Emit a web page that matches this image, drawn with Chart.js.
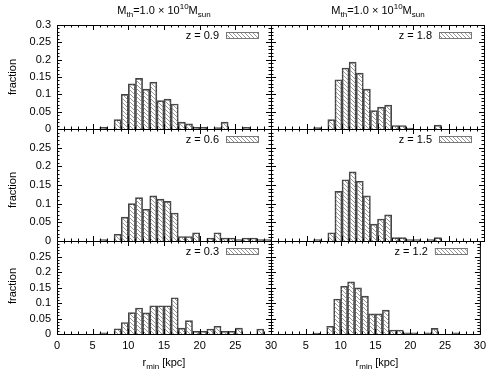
<!DOCTYPE html>
<html>
<head>
<meta charset="utf-8">
<script src="https://cdn.jsdelivr.net/npm/chart.js@4.4.0/dist/chart.umd.min.js"></script>
<style>
  body { margin: 0; background: #fff; width: 491px; height: 369px; overflow: hidden; position: relative;
         font-family: "Liberation Sans", Arial, sans-serif; color: #000; }
  canvas { position: absolute; left: 0; top: 0; }
  .lbl { position: absolute; font-size: 11px; line-height: 12px; white-space: nowrap; transform: translateX(-50%); }
  .ylab { position: absolute; font-size: 11px; line-height: 12px; white-space: nowrap; transform: translate(-50%, -50%) rotate(-90deg); }
  sub, sup { font-size: 8px; line-height: 0; }
</style>
</head>
<body>
<canvas id="c0" width="491" height="369"></canvas>
<canvas id="c1" width="491" height="369"></canvas>
<canvas id="c2" width="491" height="369"></canvas>
<canvas id="c3" width="491" height="369"></canvas>
<canvas id="c4" width="491" height="369"></canvas>
<canvas id="c5" width="491" height="369"></canvas>

<div class="lbl" style="left:164px; top:4px">M<sub>th</sub>=1.0 × 10<sup>10</sup>M<sub>sun</sub></div>
<div class="lbl" style="left:378px; top:4px">M<sub>th</sub>=1.0 × 10<sup>10</sup>M<sub>sun</sub></div>
<div class="lbl" style="left:164px; top:356px">r<sub>min</sub> [kpc]</div>
<div class="lbl" style="left:377px; top:356px">r<sub>min</sub> [kpc]</div>
<div class="ylab" style="left:12px; top:77px">fraction</div>
<div class="ylab" style="left:12px; top:190px">fraction</div>
<div class="ylab" style="left:12px; top:286px">fraction</div>

<script>
// bin centres, 1 kpc wide bins from 0 to 30
const binCenters = [0.5, 1.5, 2.5, 3.5, 4.5, 5.5, 6.5, 7.5, 8.5, 9.5,
                    10.5, 11.5, 12.5, 13.5, 14.5, 15.5, 16.5, 17.5, 18.5, 19.5,
                    20.5, 21.5, 22.5, 23.5, 24.5, 25.5, 26.5, 27.5, 28.5, 29.5]

// fractions per bin
const frac09 = [0, 0, 0, 0, 0, 0, 0.005, 0, 0.027, 0.100,
                0.130, 0.146, 0.115, 0.135, 0.082, 0.086, 0.072, 0.020, 0.015, 0.005,
                0.005, 0, 0.004, 0.020, 0, 0, 0.005, 0, 0, 0]
const frac18 = [0, 0, 0, 0, 0, 0, 0.004, 0, 0.027, 0.142,
                0.176, 0.193, 0.161, 0.115, 0.053, 0.063, 0.069, 0.010, 0.010, 0.003,
                0, 0, 0, 0.011, 0, 0, 0, 0, 0, 0]
const frac06 = [0, 0, 0, 0, 0, 0, 0.004, 0, 0.018, 0.064,
                0.100, 0.116, 0.085, 0.121, 0.112, 0.106, 0.075, 0.012, 0.012, 0.022,
                0, 0.008, 0.022, 0.008, 0.008, 0.004, 0.008, 0.008, 0.004, 0.004]
const frac15 = [0, 0, 0, 0, 0, 0, 0.004, 0, 0.022, 0.133,
                0.164, 0.185, 0.160, 0.121, 0.045, 0.059, 0.070, 0.009, 0.009, 0.004,
                0.004, 0, 0.004, 0.009, 0, 0, 0, 0, 0, 0]
const frac03 = [0, 0, 0, 0, 0, 0, 0.004, 0, 0.017, 0.037,
                0.069, 0.084, 0.068, 0.091, 0.091, 0.091, 0.117, 0.019, 0.043, 0.009,
                0.009, 0.016, 0.025, 0.009, 0.009, 0.019, 0, 0, 0.016, 0]
const frac12 = [0, 0, 0, 0, 0, 0, 0.003, 0, 0.025, 0.113,
                0.154, 0.168, 0.149, 0.122, 0.065, 0.065, 0.077, 0.013, 0.013, 0.004,
                0.004, 0, 0.004, 0.018, 0, 0, 0.004, 0, 0, 0]

const redshifts = ["0.9", "1.8", "0.6", "1.5", "0.3", "1.2"]
const xTickMax = 30
const yTickMax = 0.3

// panel frames (page pixels) for the multiplot layout
const colEdges = [[57, 271], [271, 484]]
const rowEdges = [[25, 129], [129, 241], [241, 334]]

Chart.defaults.font.family = '"Liberation Sans", Arial, sans-serif'
Chart.defaults.font.size = 11
Chart.defaults.color = '#000'

function makeHatch() {
  const c = document.createElement('canvas')
  c.width = 4; c.height = 4
  const g = c.getContext('2d')
  g.strokeStyle = '#8c8c8c'
  g.lineWidth = 0.9
  g.beginPath()
  g.moveTo(-1, -1); g.lineTo(5, 5)
  g.moveTo(-1, 3); g.lineTo(1, 5)
  g.moveTo(3, -1); g.lineTo(5, 1)
  g.stroke()
  return g.createPattern(c, 'repeat')
}

// gnuplot style frame: box, inward ticks on all four sides, key in the top right
const gnuFrame = {
  id: 'gnuFrame',
  afterDatasetsDraw(chart, args, opts) {
    const { ctx, chartArea: a, scales } = chart
    const x = scales.x, y = scales.y
    ctx.save()
    ctx.strokeStyle = '#000'
    ctx.lineWidth = 1
    ctx.strokeRect(a.left + 0.5, a.top + 0.5, a.right - a.left, a.bottom - a.top)
    ctx.beginPath()
    for (let v = 0; v <= xTickMax; v++) {
      const px = Math.round(x.getPixelForValue(v)) + 0.5
      const len = v % 5 === 0 ? 5 : 2.5
      ctx.moveTo(px, a.bottom); ctx.lineTo(px, a.bottom - len)
      ctx.moveTo(px, a.top); ctx.lineTo(px, a.top + len)
    }
    for (let i = 0; i <= 30; i++) {
      const py = Math.round(y.getPixelForValue(i / 100)) + 0.5
      const len = i % 5 === 0 ? 5 : 2.5
      ctx.moveTo(a.left, py); ctx.lineTo(a.left + len, py)
      ctx.moveTo(a.right, py); ctx.lineTo(a.right - len, py)
    }
    ctx.stroke()

    // key
    const bx = a.right - 45, by = a.top + 7
    ctx.fillStyle = opts.pattern
    ctx.fillRect(bx, by, 32, 6)
    ctx.strokeStyle = '#777'
    ctx.strokeRect(bx + 0.5, by + 0.5, 32, 6)
    ctx.fillStyle = '#000'
    ctx.font = '11px "Liberation Sans", Arial, sans-serif'
    ctx.textAlign = 'right'
    ctx.textBaseline = 'middle'
    ctx.fillText('z = ' + opts.z, a.right - 52, a.top + 10.5)
    ctx.restore()
  }
}

const allFracs = [frac09, frac18, frac06, frac15, frac03, frac12]

allFracs.forEach((vals, idx) => {
  const col = idx % 2
  const row = Math.floor(idx / 2)
  const [left, right] = colEdges[col]
  const [top, bottom] = rowEdges[row]
  const pattern = makeHatch()
  const points = binCenters.map((c, i) => ({ x: c, y: vals[i] > 0 ? vals[i] : null }))

  new Chart(document.getElementById('c' + idx), {
    type: 'bar',
    data: {
      datasets: [{
        data: points,
        backgroundColor: pattern,
        borderColor: '#444',
        borderWidth: 1,
        borderSkipped: 'bottom',
        barPercentage: 1,
        categoryPercentage: 1
      }]
    },
    options: {
      responsive: false,
      animation: false,
      devicePixelRatio: 1,
      layout: {
        autoPadding: false,
        padding: { left: left - 40, right: 491 - right, top: top, bottom: 369 - bottom - 20 }
      },
      plugins: {
        legend: { display: false },
        tooltip: { enabled: false },
        gnuFrame: { pattern: pattern, z: redshifts[idx] }
      },
      scales: {
        x: {
          type: 'linear',
          min: 0,
          max: xTickMax,
          offset: false,
          grid: { display: false, drawTicks: false, offset: false },
          border: { display: false },
          afterFit: s => { s.height = 20 },
          ticks: {
            display: row === 2,
            stepSize: 5,
            autoSkip: false,
            maxRotation: 0,
            padding: 5,
            callback: v => (col === 1 && v === 0) ? null : String(v)
          }
        },
        y: {
          min: 0,
          max: yTickMax,
          grid: { display: false, drawTicks: false },
          border: { display: false },
          afterFit: s => { s.width = 40 },
          ticks: {
            display: col === 0,
            stepSize: 0.05,
            padding: 6,
            callback: v => (row > 0 && v > 0.27) ? null : String(Number(v.toFixed(2)))
          }
        }
      }
    },
    plugins: [gnuFrame]
  })
})
</script>
</body>
</html>
